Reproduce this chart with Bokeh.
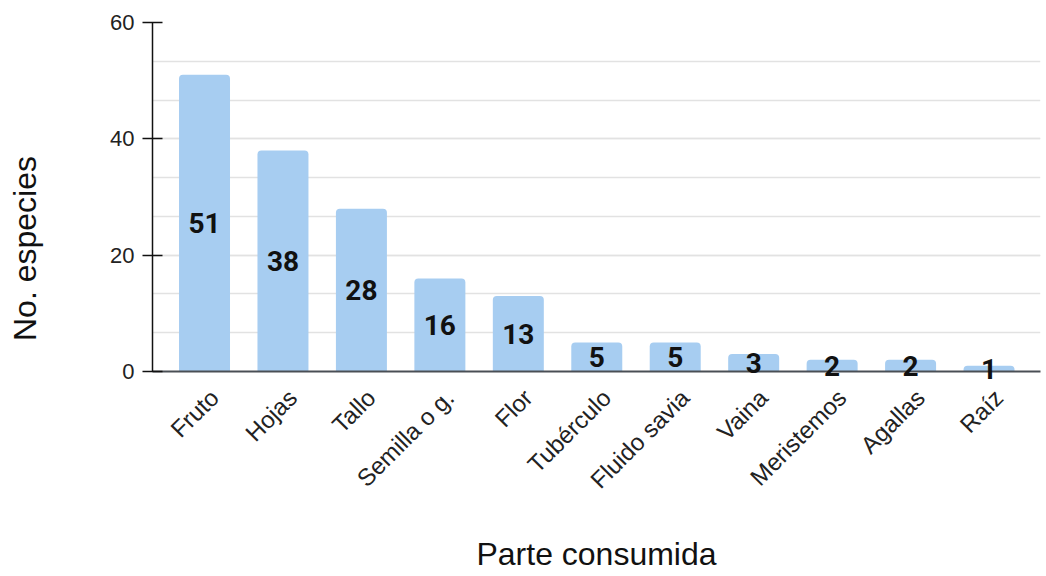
from math import pi

from bokeh.core.properties import value
from bokeh.embed import file_html
from bokeh.layouts import row
from bokeh.models import (ColumnDataSource, FixedTicker, Range1d,
                          SingleIntervalTicker)
from bokeh.plotting import figure
from bokeh.resources import INLINE

# Number of species by plant part consumed
parts = ["Fruto", "Hojas", "Tallo", "Semilla o g.", "Flor", "Tubérculo",
         "Fluido savia", "Vaina", "Meristemos", "Agallas", "Raíz"]
species = [51, 38, 28, 16, 13, 5, 5, 3, 2, 2, 1]
y_title = "No. especies"

pos = list(range(len(parts)))
source = ColumnDataSource(dict(
    pos=pos,
    count=species,
    mid=[v / 2 for v in species],
    label=[str(v) for v in species],
))

TOTAL_W, H = 1046, 576
SIDE_W = 60
FRAME_TOP, FRAME_BOTTOM = 22, 371

# narrow strip on the left holding the vertical y axis title;
# its frame lines up with the main frame, so the y range is in page pixels
side = figure(
    width=SIDE_W, height=H,
    x_range=Range1d(0, SIDE_W), y_range=Range1d(FRAME_BOTTOM, FRAME_TOP),
    x_axis_type=None, y_axis_type=None,
    output_backend="svg", toolbar_location=None,
    min_border=0, outline_line_color=None,
)
side.grid.visible = False
side.text(x=[24], y=[248], text=[y_title], angle=pi / 2,
          text_font=value("Liberation Sans"), text_font_size="32px",
          text_color="#111111", text_align="center", text_baseline="middle")

# main bar chart
p = figure(
    width=TOTAL_W - SIDE_W, height=H,
    x_range=Range1d(-0.663, len(parts) - 0.344),
    y_range=Range1d(0, 60),
    output_backend="svg", toolbar_location=None,
    min_border_left=152 - SIDE_W, min_border_right=6,
    min_border_top=FRAME_TOP, min_border_bottom=H - FRAME_BOTTOM,
    outline_line_color=None,
)

bar_color = "#a7cdf1"
p.vbar(x="pos", top="count", width=0.65, source=source,
       fill_color=bar_color, line_color=None, border_radius=(4, 4, 0, 0))

# value labels, centred half-way up each bar, drawn above the axis line
p.text(x="pos", y="mid", text="label", source=source,
       text_font=value("Roboto"), text_font_style="bold", text_font_size="28px",
       text_color="#111111", text_align="center", text_baseline="middle",
       level="overlay")

# y axis
p.yaxis.ticker = SingleIntervalTicker(interval=20, num_minor_ticks=3)
p.yaxis.axis_line_color = "#111111"
p.yaxis.axis_line_width = 1.5
p.yaxis.major_tick_line_color = "#111111"
p.yaxis.major_tick_line_width = 1.5
p.yaxis.major_tick_in = 10
p.yaxis.major_tick_out = 10
p.yaxis.minor_tick_line_color = None
p.yaxis.major_label_text_font = "Liberation Sans"
p.yaxis.major_label_text_font_size = "22px"
p.yaxis.major_label_text_color = "#222222"
p.yaxis.major_label_standoff = 8

# x axis: category names slightly right of the bar centres
label_shift = 0.125
p.xaxis.ticker = FixedTicker(ticks=[i + label_shift for i in pos])
p.xaxis.major_label_overrides = {i + label_shift: name for i, name in zip(pos, parts)}
p.xaxis.axis_line_color = "#4a4f55"
p.xaxis.axis_line_width = 2
p.xaxis.major_tick_line_color = None
p.xaxis.minor_tick_line_color = None
p.xaxis.major_label_orientation = pi / 4
p.xaxis.major_label_text_font = "Liberation Sans"
p.xaxis.major_label_text_font_size = "24px"
p.xaxis.major_label_text_color = "#222222"
p.xaxis.major_label_standoff = 16
p.xaxis.axis_label = "Parte consumida"
p.xaxis.axis_label_text_font = "Liberation Sans"
p.xaxis.axis_label_text_font_size = "32px"
p.xaxis.axis_label_text_font_style = "normal"
p.xaxis.axis_label_text_color = "#111111"
p.xaxis.axis_label_standoff = 30

# grid
p.xgrid.grid_line_color = None
p.ygrid.grid_line_color = "#e2e2e2"
p.ygrid.grid_line_width = 1.5
p.ygrid.minor_grid_line_color = "#e2e2e2"
p.ygrid.minor_grid_line_width = 1.5

layout = row(side, p, spacing=0)
open("out.html", "w").write(file_html(layout, INLINE))
